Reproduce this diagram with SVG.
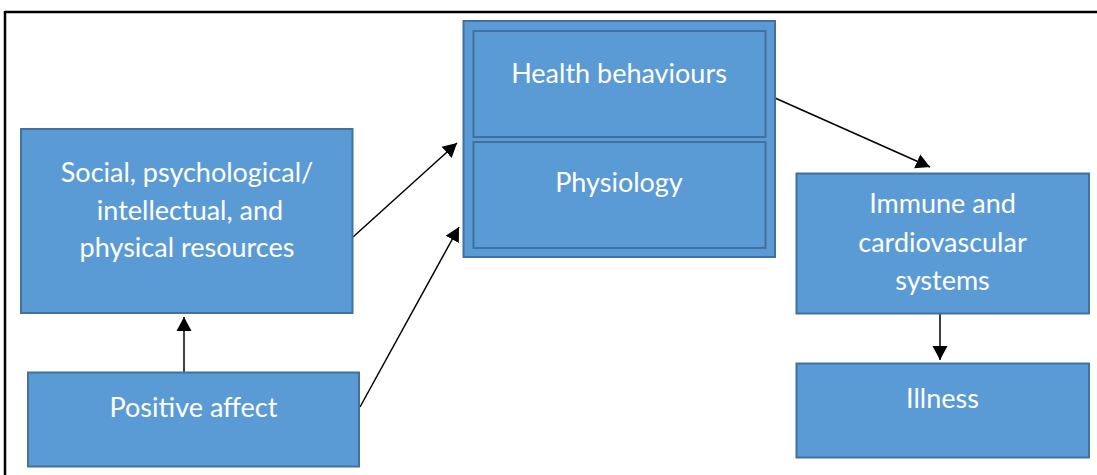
<svg xmlns="http://www.w3.org/2000/svg" width="1097" height="475" viewBox="0 0 1097 475">
<style>
.box{fill:#5B9BD5;stroke:#41719C;stroke-width:2}
.lbl{fill:#ffffff;font-family:Lato,"Open Sans",sans-serif;font-size:27px;text-anchor:middle}
.con{stroke:#000;stroke-width:1.5;fill:none;marker-end:url(#arr)}
</style>
<defs>
<marker id="arr" markerUnits="userSpaceOnUse" markerWidth="15" markerHeight="16" refX="14" refY="7.5" orient="auto" viewBox="0 0 15 15">
<path d="M0,0 L14,7.5 L0,15 z" fill="#000"/>
</marker>
</defs>
<g id="frame">
<line x1="5" y1="12" x2="1097" y2="12" stroke="#000" stroke-width="2.5"/>
<line x1="5" y1="11" x2="5" y2="475" stroke="#000" stroke-width="2.5"/>
</g>
<g id="connectors">
<line class="con" x1="184" y1="372" x2="184" y2="317"/>
<line class="con" x1="353" y1="237" x2="457" y2="143"/>
<line class="con" x1="360" y1="407" x2="459" y2="227"/>
<line class="con" x1="775" y1="98" x2="930" y2="167"/>
<line class="con" x1="940" y1="313" x2="940" y2="360"/>
</g>
<g id="container">
<rect class="box" x="463.5" y="21" width="311.5" height="236"/>
</g>
<g id="health">
<rect class="box" x="473.5" y="31" width="292" height="106"/>
<text class="lbl" x="619" y="83">Health behaviours</text>
</g>
<g id="physiology">
<rect class="box" x="473.5" y="142" width="292" height="106"/>
<text class="lbl" x="619" y="192">Physiology</text>
</g>
<g id="resources">
<rect class="box" x="21" y="129" width="331.5" height="184"/>
<text class="lbl" x="187" y="182">Social, psychological/</text>
<text class="lbl" x="190" y="220">intellectual, and</text>
<text class="lbl" x="187" y="257">physical resources</text>
</g>
<g id="positive">
<rect class="box" x="28" y="372.5" width="331" height="94"/>
<text class="lbl" x="193.5" y="417">Positive affect</text>
</g>
<g id="immune">
<rect class="box" x="796.5" y="173.5" width="292.5" height="140"/>
<text class="lbl" x="942.5" y="213">Immune and</text>
<text class="lbl" x="942.5" y="252">cardiovascular</text>
<text class="lbl" x="942.5" y="290">systems</text>
</g>
<g id="illness">
<rect class="box" x="796.5" y="363.5" width="292.5" height="94"/>
<text class="lbl" x="942.5" y="408">Illness</text>
</g>
</svg>
